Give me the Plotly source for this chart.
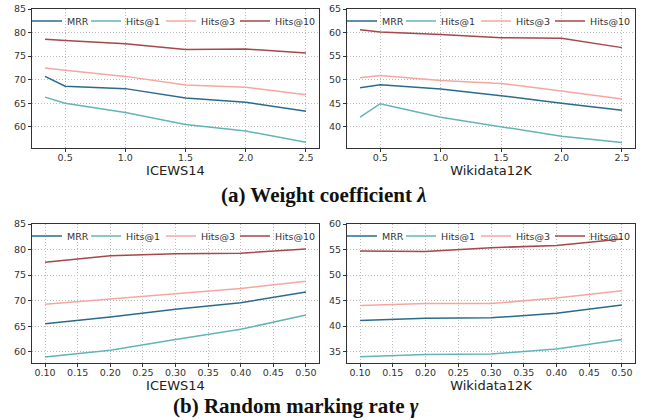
import plotly.graph_objects as go

series_names = ["MRR", "Hits@1", "Hits@3", "Hits@10"]
colors = ["#2a6b8c", "#62b5b6", "#f4a7a1", "#a5474b"]

lam = [0.333, 0.5, 1.0, 1.5, 2.0, 2.5]
icews_lam = {
    "MRR":     [70.7, 68.6, 68.1, 66.1, 65.2, 63.3],
    "Hits@1":  [66.3, 65.0, 63.05, 60.5, 59.1, 56.7],
    "Hits@3":  [72.5, 72.0, 70.7, 68.85, 68.4, 66.8],
    "Hits@10": [78.6, 78.3, 77.6, 76.4, 76.5, 75.65],
}
wiki_lam = {
    "MRR":     [48.3, 48.9, 48.0, 46.6, 45.0, 43.5],
    "Hits@1":  [42.06, 44.9, 42.0, 40.0, 38.0, 36.65],
    "Hits@3":  [50.4, 50.9, 49.8, 49.2, 47.6, 45.9],
    "Hits@10": [60.6, 60.1, 59.6, 58.9, 58.8, 56.8],
}

gamma = [0.1, 0.2, 0.3, 0.4, 0.5]
icews_gam = {
    "MRR":     [65.5, 66.8, 68.3, 69.6, 71.7],
    "Hits@1":  [59.0, 60.3, 62.4, 64.4, 67.2],
    "Hits@3":  [69.3, 70.3, 71.3, 72.4, 73.8],
    "Hits@10": [77.5, 78.8, 79.2, 79.3, 80.1],
}
wiki_gam = {
    "MRR":     [41.1, 41.5, 41.6, 42.5, 44.1],
    "Hits@1":  [34.0, 34.4, 34.5, 35.5, 37.35],
    "Hits@3":  [44.0, 44.4, 44.4, 45.5, 46.9],
    "Hits@10": [54.7, 54.6, 55.35, 55.8, 57.05],
}

panel_titles = ["ICEWS14", "Wikidata12K", "ICEWS14", "Wikidata12K"]
caption_a = "(a) Weight coefficient <i>λ</i>"
caption_b = "(b) Random marking rate <i>γ</i>"

W, H = 650, 420
panels = [
    dict(x=lam, data=icews_lam, px=(32, 319), py=(9, 148), xr=[0.225, 2.608], yr=[55.5, 85],
         xt=[0.5, 1.0, 1.5, 2.0, 2.5], fmt=".1f", yt=[60, 65, 70, 75, 80, 85]),
    dict(x=lam, data=wiki_lam, px=(347, 635), py=(9, 147.5), xr=[0.225, 2.608], yr=[35.6, 65],
         xt=[0.5, 1.0, 1.5, 2.0, 2.5], fmt=".1f", yt=[40, 45, 50, 55, 60, 65]),
    dict(x=gamma, data=icews_gam, px=(32, 319), py=(224, 362.5), xr=[0.08, 0.52], yr=[57.9, 85],
         xt=[0.1, 0.15, 0.2, 0.25, 0.3, 0.35, 0.4, 0.45, 0.5], fmt=".2f", yt=[60, 65, 70, 75, 80, 85]),
    dict(x=gamma, data=wiki_gam, px=(347, 635), py=(224, 362.5), xr=[0.08, 0.52], yr=[32.85, 60],
         xt=[0.1, 0.15, 0.2, 0.25, 0.3, 0.35, 0.4, 0.45, 0.5], fmt=".2f", yt=[35, 40, 45, 50, 55, 60]),
]
# where each legend entry's text starts, px from the panel's left edge
legend_text_x = [35, 94, 169, 243]

fig = go.Figure()
layout = dict(width=W, height=H, margin=dict(l=0, r=0, t=0, b=0, autoexpand=False),
              paper_bgcolor="white", plot_bgcolor="white", annotations=[])
tickfont = dict(family="DejaVu Sans", size=9.5, color="#333")

for i, p in enumerate(panels):
    n = "" if i == 0 else str(i + 1)
    x0, x1 = p["px"]
    y0, y1 = p["py"]
    for j, (name, col) in enumerate(zip(series_names, colors)):
        k = 4 * i + j + 1
        lg = "legend" if k == 1 else "legend" + str(k)
        fig.add_trace(go.Scatter(x=p["x"], y=p["data"][name], name=name, mode="lines",
                                 line=dict(color=col, width=1.5), xaxis="x" + n, yaxis="y" + n,
                                 legend=lg, showlegend=True))
        layout[lg] = dict(orientation="h", x=(x0 + legend_text_x[j] - 40) / W,
                          y=1 - (y0 + 12) / H, xanchor="left", yanchor="middle",
                          bgcolor="rgba(0,0,0,0)",
                          font=dict(family="DejaVu Sans", size=9.5, color="#333"),
                          itemwidth=30)
    common = dict(showline=True, linecolor="#333", linewidth=1, mirror=True, ticks="outside",
                  ticklen=3, tickcolor="#333", showgrid=True, gridcolor="#bdbdbd",
                  griddash="1px,2px", gridwidth=1, zeroline=False, tickfont=tickfont,
                  automargin=False)
    layout["xaxis" + n] = dict(domain=[x0 / W, x1 / W], range=p["xr"], anchor="y" + n,
                               tickvals=p["xt"], tickformat=p["fmt"], ticklabelstandoff=-2,
                               title=dict(text=panel_titles[i], standoff=0,
                                          font=dict(family="DejaVu Sans", size=13, color="#222")),
                               **common)
    layout["yaxis" + n] = dict(domain=[1 - y1 / H, 1 - y0 / H], range=p["yr"], anchor="x" + n,
                               tickvals=p["yt"], **common)

layout["annotations"] = [
    dict(text="<b>" + caption_a + "</b>", x=323 / W, y=1 - 195 / H, xref="paper", yref="paper",
         showarrow=False, xanchor="center", yanchor="middle",
         font=dict(family="Liberation Serif", size=21, color="#111")),
    dict(text="<b>" + caption_b + "</b>", x=296 / W, y=1 - 406 / H, xref="paper", yref="paper",
         showarrow=False, xanchor="center", yanchor="middle",
         font=dict(family="Liberation Serif", size=21, color="#111")),
]
fig.update_layout(**layout)
fig.write_html("out.html", config={"displayModeBar": False},
               post_script="document.body.style.margin='0px';")
